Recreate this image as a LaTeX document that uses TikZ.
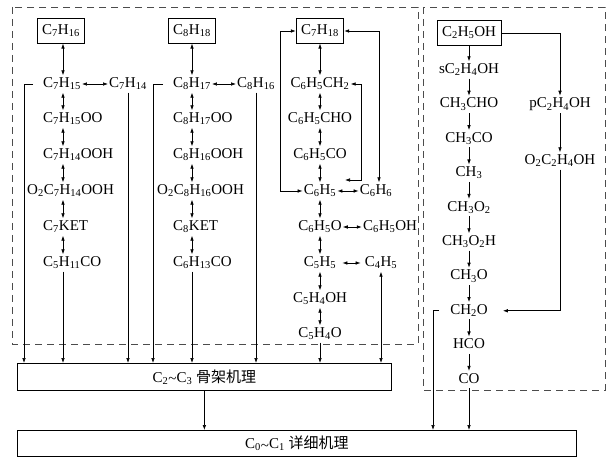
\documentclass[tikz,border=0pt]{standalone}
\usepackage{fontspec}
\setmainfont{Liberation Serif}
\newfontfamily\cjk{Noto Sans CJK SC}
\usetikzlibrary{arrows.meta}
\newcommand\mysub[1]{\textsubscript{#1}}
\newcommand\mytil{\raisebox{-1.5pt}{\textasciitilde}}
\begin{document}
\begin{tikzpicture}[x=1pt,y=-1pt,
  font=\fontsize{15}{18}\selectfont,
  lbl/.style={inner xsep=1pt, inner ysep=1.5pt, text height=10.5pt, text depth=3.5pt},
  sbox/.style={lbl, draw, line width=0.75pt, inner xsep=5pt, inner ysep=5.2pt},
  bigbox/.style={draw, line width=0.75pt, anchor=north west, inner sep=0pt},
  arr/.style={-{Latex[length=5pt,width=3.6pt]}, line width=0.7pt},
  dbl/.style={{Latex[length=5pt,width=3.6pt]}-{Latex[length=5pt,width=3.6pt]}, line width=0.7pt},
  dsh/.style={dash pattern=on 7pt off 5pt, line width=0.8pt, draw=black!70}]
\useasboundingbox (0,0) rectangle (611,457);
% dashed groups
\draw[dsh] (12,7) rectangle (418,344);
\draw[dsh] (423,7) rectangle (605,390);
% helper coordinates
\coordinate (col7) at (63,0);
\coordinate (col8) at (192,0);
\coordinate (x24) at (24,0);
\coordinate (x153) at (153,0);
\coordinate (x280) at (280,0);
\coordinate (x379) at (379,0);
\coordinate (x361) at (361,0);
\coordinate (x433) at (433,0);
\coordinate (lp) at (345,180);
% big boxes
\node[bigbox, minimum width=374pt, minimum height=27pt] (c23) at (17,363)
  {C\mysub{2}\mytil C\mysub{3} {\cjk 骨架机理}};
\node[bigbox, minimum width=559pt, minimum height=26pt] (c01) at (17,430)
  {C\mysub{0}\mytil C\mysub{1} {\cjk 详细机理}};
% C7 column
\node[sbox] (c7h16) at (61,31) {C\mysub{7}H\mysub{16}};
\node[lbl, anchor=west] (c7h15) at (42,84) {C\mysub{7}H\mysub{15}};
\node[lbl, anchor=west] (c7h15oo) at (42,119) {C\mysub{7}H\mysub{15}OO};
\node[lbl, anchor=west] (c7h14ooh) at (42,155) {C\mysub{7}H\mysub{14}OOH};
\node[lbl, anchor=west] (o2c7) at (26,191) {O\mysub{2}C\mysub{7}H\mysub{14}OOH};
\node[lbl, anchor=west] (c7ket) at (42,227) {C\mysub{7}KET};
\node[lbl, anchor=west] (c5h11co) at (42,263) {C\mysub{5}H\mysub{11}CO};
\node[lbl] (c7h14) at (128,84) {C\mysub{7}H\mysub{14}};
% C8 column
\node[sbox] (c8h18) at (192,31) {C\mysub{8}H\mysub{18}};
\node[lbl, anchor=west] (c8h17) at (172,84) {C\mysub{8}H\mysub{17}};
\node[lbl, anchor=west] (c8h17oo) at (172,119) {C\mysub{8}H\mysub{17}OO};
\node[lbl, anchor=west] (c8h16ooh) at (172,155) {C\mysub{8}H\mysub{16}OOH};
\node[lbl, anchor=west] (o2c8) at (156,191) {O\mysub{2}C\mysub{8}H\mysub{16}OOH};
\node[lbl, anchor=west] (c8ket) at (172,227) {C\mysub{8}KET};
\node[lbl, anchor=west] (c6h13co) at (172,263) {C\mysub{6}H\mysub{13}CO};
\node[lbl] (c8h16) at (256,84) {C\mysub{8}H\mysub{16}};
% aromatic column
\node[sbox] (c7h18) at (320,31) {C\mysub{7}H\mysub{18}};
\node[lbl] (c6h5ch2) at (320,84) {C\mysub{6}H\mysub{5}CH\mysub{2}};
\node[lbl] (c6h5cho) at (320,119) {C\mysub{6}H\mysub{5}CHO};
\node[lbl] (c6h5co) at (320,155) {C\mysub{6}H\mysub{5}CO};
\node[lbl] (c6h5) at (320,191) {C\mysub{6}H\mysub{5}};
\node[lbl] (c6h5o) at (320,227) {C\mysub{6}H\mysub{5}O};
\node[lbl] (c5h5) at (320,263) {C\mysub{5}H\mysub{5}};
\node[lbl] (c5h4oh) at (320,299) {C\mysub{5}H\mysub{4}OH};
\node[lbl] (c5h4o) at (320,334) {C\mysub{5}H\mysub{4}O};
\node[lbl] (c6h6) at (376,191) {C\mysub{6}H\mysub{6}};
\node[lbl] (c6h5oh) at (390,227) {C\mysub{6}H\mysub{5}OH};
\node[lbl] (c4h5) at (381,263) {C\mysub{4}H\mysub{5}};
% ethanol column
\node[sbox] (c2h5oh) at (469,33) {C\mysub{2}H\mysub{5}OH};
\node[lbl] (sc2h4oh) at (469,70) {sC\mysub{2}H\mysub{4}OH};
\node[lbl] (ch3cho) at (469,104.4) {CH\mysub{3}CHO};
\node[lbl] (ch3co) at (469,138.8) {CH\mysub{3}CO};
\node[lbl] (ch3) at (469,173.2) {CH\mysub{3}};
\node[lbl] (ch3o2) at (469,207.6) {CH\mysub{3}O\mysub{2}};
\node[lbl] (ch3o2h) at (469,242) {CH\mysub{3}O\mysub{2}H};
\node[lbl] (ch3o) at (469,276.4) {CH\mysub{3}O};
\node[lbl] (ch2o) at (469,310.8) {CH\mysub{2}O};
\node[lbl] (hco) at (469,345.2) {HCO};
\node[lbl] (co) at (469,379.6) {CO};
\node[lbl] (pc2h4oh) at (560,104.4) {pC\mysub{2}H\mysub{4}OH};
\node[lbl] (o2c2h4oh) at (560,161) {O\mysub{2}C\mysub{2}H\mysub{4}OH};
% C7 connectors
\draw[dbl] (col7 |- c7h16.south) -- (col7 |- c7h15.north);
\foreach \a/\b in {c7h15/c7h15oo, c7h15oo/c7h14ooh, c7h14ooh/o2c7, o2c7/c7ket, c7ket/c5h11co}
  \draw[dbl] (col7 |- \a.south) -- (col7 |- \b.north);
\draw[arr] (col7 |- c5h11co.south) -- (col7 |- c23.north);
\draw[dbl] (c7h15.east) -- (c7h14.west);
\draw[arr] (c7h14.south) -- (c7h14.south |- c23.north);
\draw[arr, shorten <=9pt] (c7h15.west) -| (x24 |- c23.north);
% C8 connectors
\draw[dbl] (col8 |- c8h18.south) -- (col8 |- c8h17.north);
\foreach \a/\b in {c8h17/c8h17oo, c8h17oo/c8h16ooh, c8h16ooh/o2c8, o2c8/c8ket, c8ket/c6h13co}
  \draw[dbl] (col8 |- \a.south) -- (col8 |- \b.north);
\draw[arr] (col8 |- c6h13co.south) -- (col8 |- c23.north);
\draw[dbl] (c8h17.east) -- (c8h16.west);
\draw[arr] (c8h16.south) -- (c8h16.south |- c23.north);
\draw[arr, shorten <=9pt] (c8h17.west) -| (x153 |- c23.north);
% aromatic connectors
\foreach \a/\b in {c7h18/c6h5ch2, c6h5ch2/c6h5cho, c6h5cho/c6h5co, c6h5co/c6h5, c6h5/c6h5o, c6h5o/c5h5, c5h5/c5h4oh, c5h4oh/c5h4o}
  \draw[dbl] (\a.south) -- (\b.north);
\draw[arr] (c5h4o.south) -- (c5h4o.south |- c23.north);
\draw[dbl] (c6h5.east) -- (c6h6.west);
\draw[dbl] (c6h5o.east) -- (c6h5oh.west);
\draw[dbl, shorten <=5pt, shorten >=3pt] (c5h5.east) -- (c4h5.west);
\draw[dbl] (c4h5.south) -- (c4h5.south |- c23.north);
\draw[dbl] (c7h18.west) -| (x280 |- c6h5.west) -- (c6h5.west);
\draw[dbl] (c7h18.east) -| (x379 |- c6h6.north);
\draw[dbl] (c6h5ch2.east) -| (x361 |- lp) -- (lp);
% ethanol connectors
\draw[arr] (c2h5oh.south) -- (sc2h4oh.north);
\foreach \a/\b in {sc2h4oh/ch3cho, ch3cho/ch3co, ch3co/ch3, ch3/ch3o2, ch3o2/ch3o2h, ch3o2h/ch3o, ch3o/ch2o, ch2o/hco, hco/co}
  \draw[arr] (\a.south) -- (\b.north);
\draw[arr] (c2h5oh.east) -| (pc2h4oh.north);
\draw[arr] (pc2h4oh.south) -- (o2c2h4oh.north);
\draw[arr, shorten >=14pt] (o2c2h4oh.south) |- (ch2o.east);
\draw[arr, shorten <=10pt] (ch2o.west) -| (x433 |- c01.north);
\draw[arr] (co.south) -- (co.south |- c01.north);
% lower link
\draw[arr] (c23.south) -- (c23.south |- c01.north);
\end{tikzpicture}
\end{document}
